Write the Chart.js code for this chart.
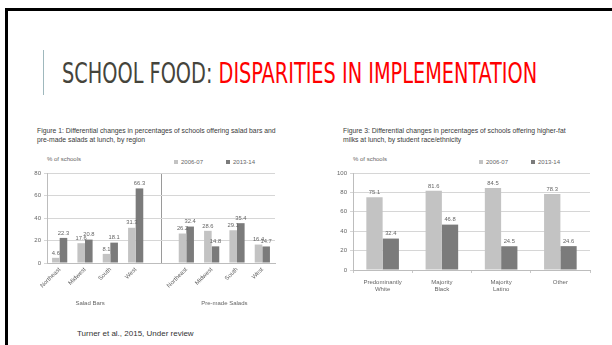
<!DOCTYPE html>
<html>
<head>
<meta charset="utf-8">
<script src="https://cdn.jsdelivr.net/npm/chart.js@4"></script>
<style>
    html, body { margin: 0; padding: 0; background: #fff; }
    body { width: 612px; height: 345px; position: relative; overflow: hidden; font-family: "Liberation Sans", Arial, sans-serif; }
    .frame { position: absolute; left: 5px; top: 8px; width: 620px; height: 350px; border-top: 3px solid #000; border-left: 3px solid #000; }
    .accent { position: absolute; left: 43px; top: 50px; width: 1px; height: 45px; background: #9fb8bd; }
    .title { position: absolute; left: 62px; top: 57px; font-family: "DejaVu Sans Condensed", "DejaVu Sans", sans-serif; font-stretch: condensed; font-size: 29px; line-height: 32px; white-space: nowrap; transform-origin: 0 0; color: #45443b; }
    .title .red { color: #ff0000; }
    .fig-title { position: absolute; font-size: 6.8px; line-height: 9px; color: #3a3a3a; white-space: nowrap; }
    .small { position: absolute; font-size: 6px; color: #666; white-space: nowrap; }
    .swatch { display: inline-block; width: 4px; height: 4px; margin-right: 3px; vertical-align: middle; }
    .cite { position: absolute; left: 77px; top: 329px; font-size: 8px; color: #333; white-space: nowrap; }
    canvas { position: absolute; }
</style>
</head>
<body>
<div class="frame"></div>
<div class="accent"></div>
<div class="title" id="title">SCHOOL FOOD: <span class="red">DISPARITIES IN IMPLEMENTATION</span></div>

<div class="fig-title" style="left:37px; top:126px;">Figure 1: Differential changes in percentages of schools offering salad bars and<br>pre-made salads at lunch, by region</div>
<div class="small" style="left:47px; top:156px;">% of schools</div>
<div class="small" style="left:174px; top:159px;"><span class="swatch" style="background:#c3c3c3"></span>2006-07</div>
<div class="small" style="left:226px; top:159px;"><span class="swatch" style="background:#7b7b7b"></span>2013-14</div>

<div class="fig-title" style="left:343px; top:126px;">Figure 3: Differential changes in percentages of schools offering higher-fat<br>milks at lunch, by student race/ethnicity</div>
<div class="small" style="left:353px; top:156px;">% of schools</div>
<div class="small" style="left:479px; top:159px;"><span class="swatch" style="background:#c3c3c3"></span>2006-07</div>
<div class="small" style="left:531px; top:159px;"><span class="swatch" style="background:#7b7b7b"></span>2013-14</div>

<canvas id="saladChart" style="left:25px; top:165px;" width="255" height="145"></canvas>
<canvas id="milkChart" style="left:330px; top:165px;" width="265" height="140"></canvas>

<div class="cite">Turner et al., 2015, Under review</div>

<script>
// series names
const seriesNames = ['2006-07', '2013-14'];

// Figure 1: salad bars / pre-made salads by region (middle slot is the gap between groups)
const regionLabels = ['Northeast', 'Midwest', 'South', 'West', '', 'Northeast', 'Midwest', 'South', 'West'];
const salad0607 = [4.6, 17.6, 8.1, 31.3, null, 26.2, 28.6, 29.1, 16.4];
const salad1314 = [22.3, 20.8, 18.1, 66.3, null, 32.4, 14.8, 35.4, 14.7];
const saladGroups = ['Salad Bars', 'Pre-made Salads'];
const saladTicks = [0, 20, 40, 60, 80];

// Figure 3: higher-fat milks by student race/ethnicity
const raceLabels = [['Predominantly', 'White'], ['Majority', 'Black'], ['Majority', 'Latino'], 'Other'];
const milk0607 = [75.1, 81.6, 84.5, 78.3];
const milk1314 = [32.4, 46.8, 24.5, 24.6];
const milkTicks = [0, 20, 40, 60, 80, 100];

const LIGHT = '#c3c3c3';
const DARK = '#7b7b7b';
const TEXT = '#666';
const GRID = '#d6d6d6';
const tinyFont = { family: 'Liberation Sans', size: 6 };

// stretch the title to the width it has on the slide
const title = document.getElementById('title');
title.style.transform = 'scaleX(' + (475 / title.offsetWidth) + ')';

const valueLabels = {
    id: 'valueLabels',
    afterDatasetsDraw(chart) {
        const ctx = chart.ctx;
        ctx.save();
        ctx.font = '5.8px "Liberation Sans"';
        ctx.fillStyle = TEXT;
        ctx.textAlign = 'center';
        ctx.textBaseline = 'bottom';
        chart.data.datasets.forEach((ds, i) => {
            chart.getDatasetMeta(i).data.forEach((bar, j) => {
                const v = ds.data[j];
                if (v === null || v === undefined) return;
                ctx.fillText(v.toFixed(1), bar.x, bar.y - 2);
            });
        });
        ctx.restore();
    }
};

const groupLabels = {
    id: 'groupLabels',
    afterDraw(chart) {
        const x = chart.scales.x;
        const ctx = chart.ctx;
        ctx.save();
        ctx.font = '6px "Liberation Sans"';
        ctx.fillStyle = TEXT;
        ctx.textAlign = 'center';
        ctx.textBaseline = 'middle';
        ctx.fillText(saladGroups[0], x.getPixelForValue(1.2), chart.height - 7);
        ctx.fillText(saladGroups[1], x.getPixelForValue(6.5), chart.height - 7);
        ctx.restore();
    }
};

function makeOptions(ticks, xHeight, yWidth, extraX) {
    return {
        responsive: false,
        animation: false,
        layout: { padding: { top: 8, right: 5, left: 0, bottom: 0 } },
        plugins: { legend: { display: false }, tooltip: { enabled: false } },
        scales: {
            x: Object.assign({
                afterFit: s => { s.height = xHeight; },
                border: { color: '#bdbdbd' },
                ticks: { color: TEXT, font: tinyFont, padding: 2 }
            }, extraX),
            y: {
                min: ticks[0],
                max: ticks[ticks.length - 1],
                afterFit: s => { s.width = yWidth; },
                afterBuildTicks: s => { s.ticks = ticks.map(v => ({ value: v })); },
                border: { color: '#bdbdbd' },
                grid: { color: GRID, tickLength: 3 },
                ticks: { color: TEXT, font: tinyFont, padding: 3 }
            }
        }
    };
}

new Chart(document.getElementById('saladChart'), {
    type: 'bar',
    data: {
        labels: regionLabels,
        datasets: [
            { label: seriesNames[0], data: salad0607, backgroundColor: LIGHT, categoryPercentage: 0.6, barPercentage: 1 },
            { label: seriesNames[1], data: salad1314, backgroundColor: DARK, categoryPercentage: 0.6, barPercentage: 1 }
        ]
    },
    options: makeOptions(saladTicks, 47, 22, {
        grid: {
            offset: false,
            drawTicks: false,
            color: c => c.index === 4 ? '#9a9a9a' : 'rgba(0,0,0,0)'
        },
        ticks: { color: TEXT, font: tinyFont, padding: 3, minRotation: 45, maxRotation: 45, autoSkip: false }
    }),
    plugins: [valueLabels, groupLabels]
});

new Chart(document.getElementById('milkChart'), {
    type: 'bar',
    data: {
        labels: raceLabels,
        datasets: [
            { label: seriesNames[0], data: milk0607, backgroundColor: LIGHT, categoryPercentage: 0.55, barPercentage: 1 },
            { label: seriesNames[1], data: milk1314, backgroundColor: DARK, categoryPercentage: 0.55, barPercentage: 1 }
        ]
    },
    options: makeOptions(milkTicks, 35, 23, {
        grid: { drawOnChartArea: false, color: '#c8c8c8', tickLength: 3 },
        ticks: { color: TEXT, font: tinyFont, padding: 6, maxRotation: 0, autoSkip: false }
    }),
    plugins: [valueLabels]
});
</script>
</body>
</html>
